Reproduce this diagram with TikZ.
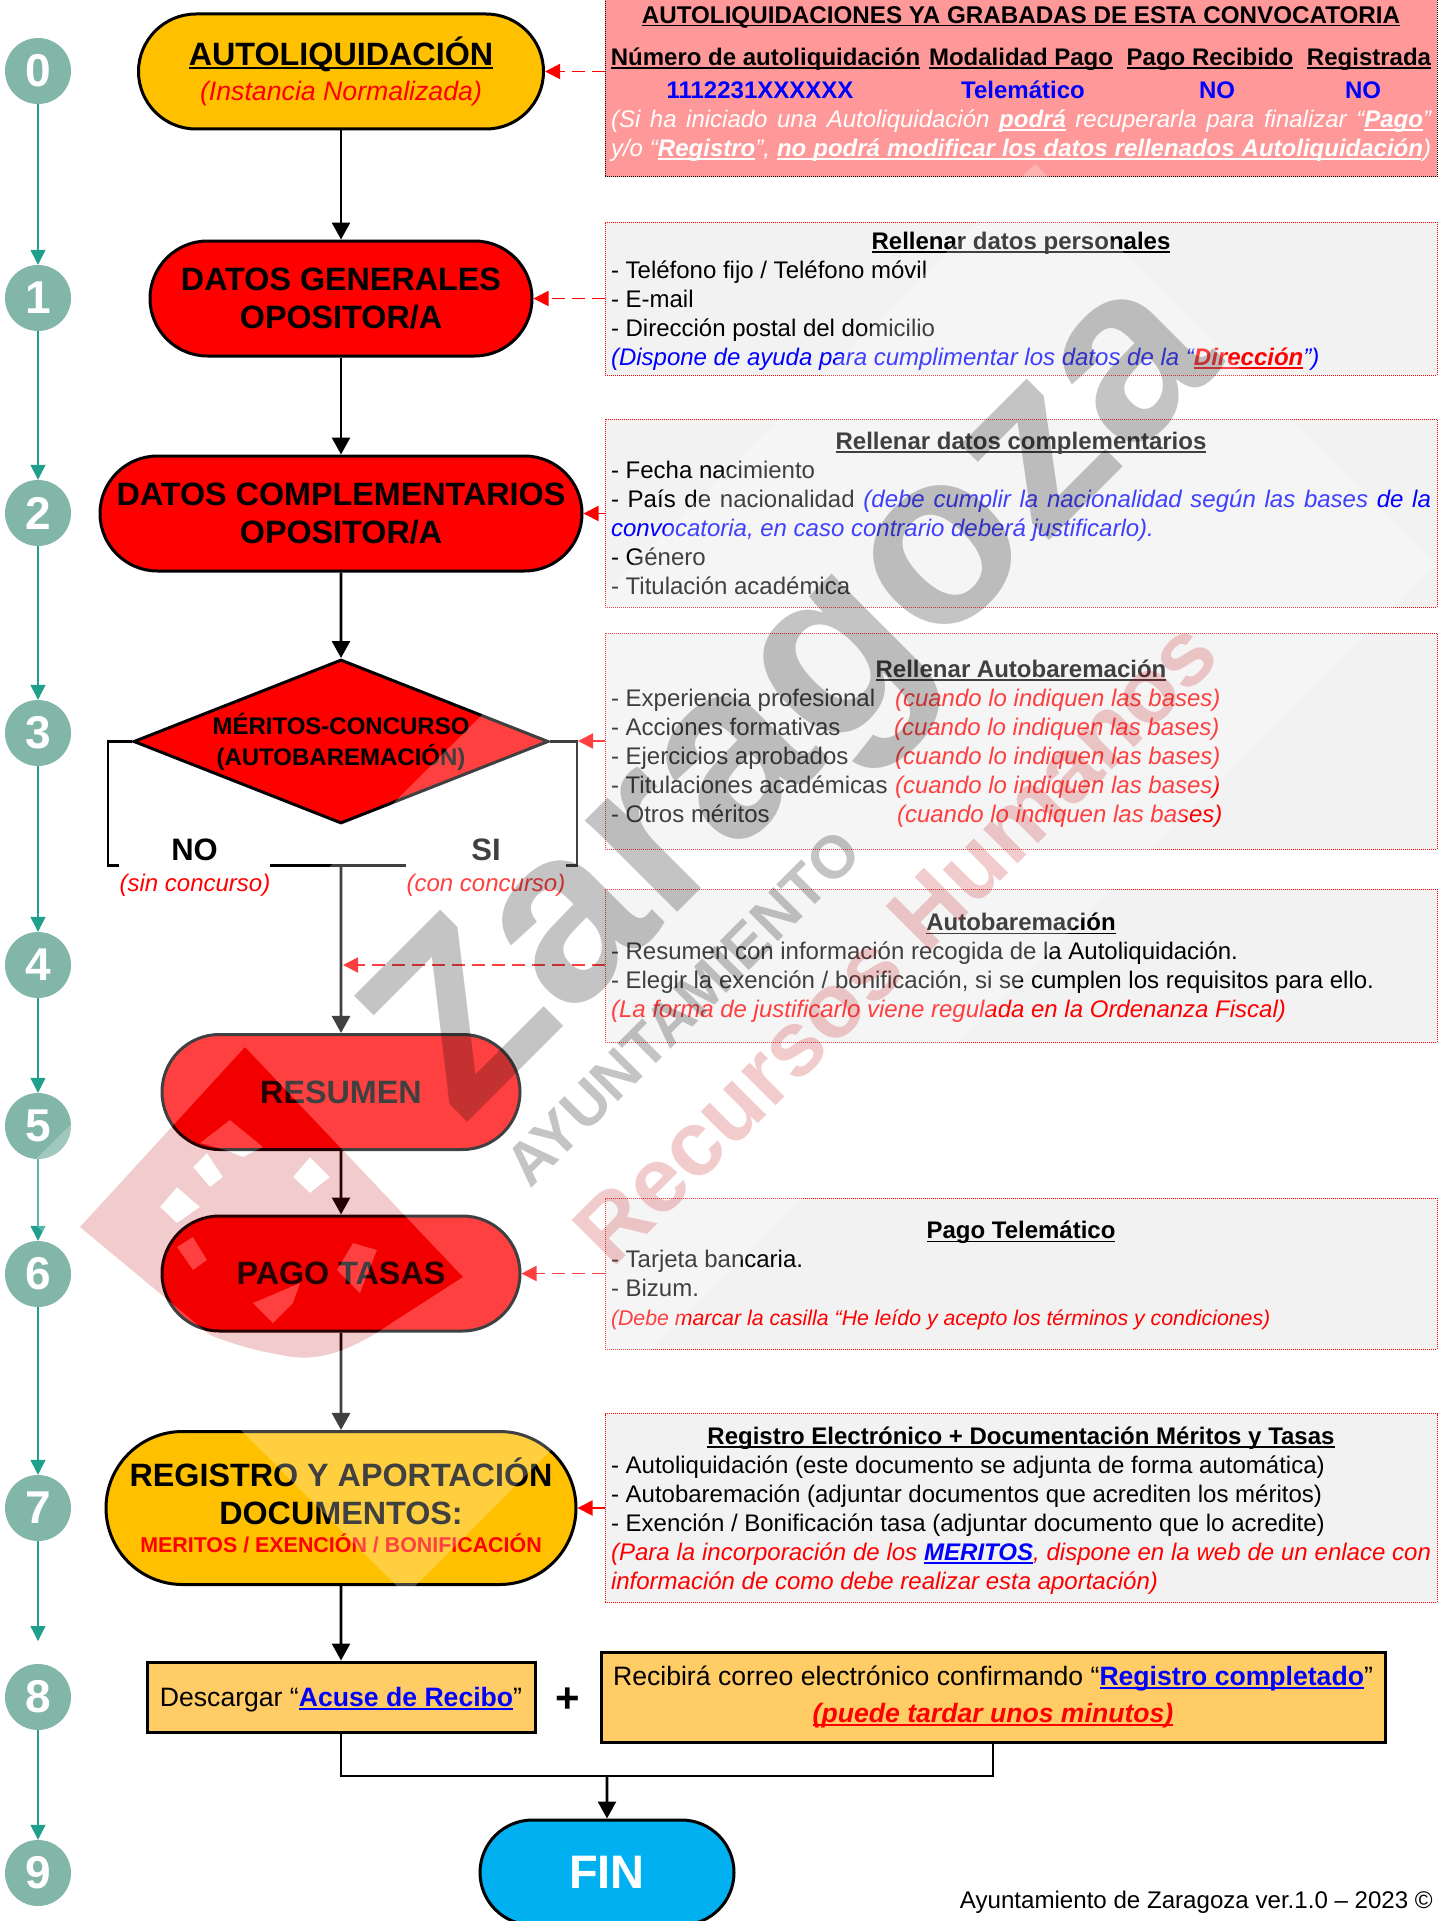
\documentclass[tikz,border=0pt]{standalone}
\usepackage{fontspec}
\setmainfont{Liberation Sans}
\usetikzlibrary{arrows.meta,shapes.geometric,shapes.misc}
\definecolor{stepfill}{HTML}{82B6A8}
\definecolor{stepline}{HTML}{20A08C}
\definecolor{amber}{HTML}{FFC000}
\definecolor{sand}{HTML}{FFCC66}
\definecolor{sky}{HTML}{00B0F0}
\definecolor{pinkbox}{HTML}{FF9999}
\definecolor{greybox}{HTML}{F2F2F2}
\definecolor{crest}{HTML}{C00000}
\newlength{\ulw}
\newcommand{\ulined}[1]{\settowidth{\ulw}{#1}\rlap{\smash{\rule[-3.4pt]{\ulw}{1.8pt}}}#1}
\newcommand{\fs}[2]{\fontsize{#1}{#2}\selectfont}
\newcommand{\lsa}{\spaceskip=0pt\xspaceskip=0pt\rule{0pt}{23.6pt}}
\newcommand{\lsb}{\rule[-6pt]{0pt}{6pt}}
\newcommand{\head}[1]{\makebox[820pt]{\bfseries\ulined{#1}}}
\newcommand{\just}[1]{\makebox[820pt][s]{#1}}
\newcommand{\col}[2]{\makebox[#1pt][l]{#2}}
\newcommand{\hot}[2]{{\bfseries\color{#1}\ulined{#2}}}
\newcommand{\bases}{{\color{red}\itshape (cuando lo indiquen las bases)}}
\tikzset{
  stepnum/.style={circle,fill=stepfill,text=white,minimum size=66pt,inner sep=0pt,font=\fs{46}{46}\bfseries},
  stepline/.style={draw=stepline,line width=1.2pt,-{Triangle[length=15pt,width=15pt]}},
  terminal/.style={rounded rectangle,draw,line width=3pt,inner sep=0pt,align=center,font=\fs{32.3}{38}\bfseries},
  plainbox/.style={rectangle,draw,line width=3pt,fill=sand,inner sep=0pt,align=center,font=\fs{26.6}{37}},
  infobox/.style={rectangle,draw=red,densely dotted,line width=1pt,fill=greybox,inner xsep=6pt,inner ysep=0pt,
    text width=820pt,align=left,font=\fs{24}{28.9},execute at begin node=\lsa,execute at end node=\lsb},
  cell/.style={inner sep=0pt,font=\fs{24}{28.9}},
  flowline/.style={line width=2.7pt},
  flow/.style={line width=2.7pt,-{Triangle[length=17pt,width=18pt]}},
  hint/.style={draw=red,line width=1.8pt,dash pattern=on 13pt off 7pt,-{Triangle[length=15pt,width=15pt]}},
  logoshape/.style={insert path={
    (80,1227) -- (245,1047) -- (463,1277) -- (393,1322) .. controls (350,1352) and (320,1360) .. (293,1357)
      .. controls (260,1352) and (235,1345) .. (210,1335) -- cycle
    (160,1207) -- (177,1187) -- (200,1207) -- (177,1223) -- cycle
    (193,1167) -- (207,1153) -- (223,1177) -- (210,1187) -- cycle
    (200,1143) -- (230,1120) -- (263,1147) -- (243,1157) -- (225,1150) -- cycle
    (293,1177) -- (310,1157) -- (330,1177) -- (310,1193) -- cycle
    (177,1247) -- (193,1237) -- (207,1260) -- (193,1270) -- cycle
    (253,1303) -- (300,1283) -- (293,1303) -- (273,1323) -- cycle
    (337,1270) -- (353,1243) -- (377,1250) -- (360,1293) -- cycle}}
}
\begin{document}
\begin{tikzpicture}[x=1pt,y=-1pt]
\useasboundingbox (0,0) rectangle (1449,1921);
\clip (0,0) rectangle (1449,1921);
\fill[white] (0,0) rectangle (1449,1921);

% step numbers
\node [stepnum] (s0) at (38,71) {0};
\node [stepnum] (s1) at (38,298) {1};
\node [stepnum] (s2) at (38,513) {2};
\node [stepnum] (s3) at (38,733) {3};
\node [stepnum] (s4) at (38,965) {4};
\node [stepnum] (s5) at (38,1126) {5};
\node [stepnum] (s6) at (38,1274) {6};
\node [stepnum] (s7) at (38,1508) {7};
\node [stepnum] (s8) at (38,1697) {8};
\node [stepnum] (s9) at (38,1873) {9};
\coordinate (t8) at (38,1641);
\draw[stepline] (s0) -- (s1);
\draw[stepline] (s1) -- (s2);
\draw[stepline] (s2) -- (s3);
\draw[stepline] (s3) -- (s4);
\draw[stepline] (s4) -- (s5);
\draw[stepline] (s5) -- (s6);
\draw[stepline] (s6) -- (s7);
\draw[stepline] (s7.south) -- (t8);
\draw[stepline] (s8) -- (s9);

% flow
\node [terminal,fill=amber,minimum width=405pt,minimum height=115pt] (autoliq) at (341,71.5)
  {\ulined{AUTOLIQUIDACIÓN}\\[-3pt]{\fs{26.7}{38}\mdseries\itshape\color{red}(Instancia Normalizada)}};
\node [terminal,fill=red,minimum width=382pt,minimum height=115pt] (datgen) at (341,298.5) {DATOS GENERALES\\OPOSITOR/A};
\node [terminal,fill=red,minimum width=482pt,minimum height=115pt] (datcomp) at (341,513.5) {DATOS COMPLEMENTARIOS\\OPOSITOR/A};
\node [diamond,aspect=2.53,draw,fill=red,line width=3pt,inner sep=0pt,minimum width=415pt,minimum height=164pt,
  align=center,font=\fs{24}{31}\bfseries] (merit) at (341,741.5) {MÉRITOS-CONCURSO\\(AUTOBAREMACIÓN)};
\node [terminal,fill=red,minimum width=358pt,minimum height=115pt] (resumen) at (341,1092) {RESUMEN};
\node [terminal,fill=red,minimum width=358pt,minimum height=115pt] (pago) at (341,1273.5) {PAGO TASAS};
\node [terminal,fill=amber,minimum width=470pt,minimum height=153pt] (regis) at (341,1508)
  {REGISTRO Y APORTACIÓN\\DOCUMENTOS:\\[-5pt]\raisebox{5pt}{\fs{21.4}{38}\color{red}MERITOS / EXENCIÓN / BONIFICACIÓN}};
\node [plainbox,minimum width=388pt,minimum height=70pt,text depth=0pt] (acuse) at (341,1697) {Descargar “\hot{blue}{Acuse de Recibo}”};
\node [plainbox,minimum width=784pt,minimum height=90pt] (correo) at (993,1697)
  {Recibirá correo electrónico confirmando “\hot{blue}{Registro completado}”\\{\bfseries\itshape\color{red}\ulined{(puede tardar unos minutos)}}};
\node [terminal,fill=sky,text=white,minimum width=254pt,minimum height=105pt,font=\fs{47}{47}\bfseries] (fin) at (607,1872.5) {FIN};
\node [inner sep=0pt,font=\fs{42}{42}\bfseries] (plus) at (567.5,1700.5) {+};

\draw[flow] (autoliq) -- (datgen);
\draw[flow] (datgen) -- (datcomp);
\draw[flow] (datcomp) -- (merit);

% branches of the merit test
\coordinate (bl) at (108,865.5);
\coordinate (br) at (577,865.5);
\coordinate (bm) at (341,865.5);
\draw[flowline] (merit.west) -| (bl) -- (br) |- (merit.east);
\node [fill=white,minimum width=151pt,minimum height=40pt,inner sep=0pt,font=\fs{31}{31}\bfseries] (no) at (194.5,850) {NO};
\node [fill=white,minimum width=160pt,minimum height=40pt,inner sep=0pt,font=\fs{31}{31}\bfseries] (si) at (486,850) {SI};
\node [inner sep=0pt,font=\fs{24}{24}\itshape,text=red] (sinc) at (195,885) {(sin concurso)};
\node [inner sep=0pt,font=\fs{24}{24}\itshape,text=red] (conc) at (486,885) {(con concurso)};
\draw[flow] (bm) -- (resumen);
\draw[flow] (resumen) -- (pago);
\draw[flow] (pago) -- (regis);
\draw[flow] (regis) -- (acuse);
\coordinate (j) at (607,1776);
\draw[flowline] (acuse.south) |- (j) -| (correo.south);
\draw[flow] (j) -- (fin);

% boxes on the right
\node [rectangle,draw=black,densely dotted,line width=1pt,fill=pinkbox,minimum width=832pt,minimum height=177pt,inner sep=0pt] (b0) at (1021,88.5) {};
\node [cell,font=\fs{24.2}{28.9}\bfseries] (b0t) at (1021,17) {\ulined{AUTOLIQUIDACIONES YA GRABADAS DE ESTA CONVOCATORIA}};
\node [cell,font=\fs{24}{28.9}\bfseries] (h1) at (765.5,59.5) {\ulined{Número de autoliquidación}};
\node [cell,font=\fs{24}{28.9}\bfseries] (h2) at (1021,59.5) {\ulined{Modalidad Pago}};
\node [cell,font=\fs{24}{28.9}\bfseries] (h3) at (1210,59.5) {\ulined{Pago Recibido}};
\node [cell,font=\fs{24}{28.9}\bfseries] (h4) at (1369,59.5) {\ulined{Registrada}};
\node [cell,font=\fs{24}{28.9}\bfseries,text=blue] (v1) at (760,90) {1112231XXXXXX};
\node [cell,font=\fs{24}{28.9}\bfseries,text=blue] (v2) at (1023,90) {Telemático};
\node [cell,font=\fs{24}{28.9}\bfseries,text=blue] (v3) at (1217,90) {NO};
\node [cell,font=\fs{24}{28.9}\bfseries,text=blue] (v4) at (1363,90) {NO};
\node [infobox,draw=none,fill=none,text=white,font=\fs{24}{28.9}\itshape] (b0n) at (1021,133.5)
  {\just{(Si ha iniciado una Autoliquidación {\bfseries\ulined{podrá}} recuperarla para finalizar “{\bfseries\ulined{Pago}}”}\\
   \just{y/o “{\bfseries\ulined{Registro}}”, {\bfseries\ulined{no podrá modificar los datos rellenados Autoliquidación}})}};
\node [infobox,minimum height=153pt] (b1) at (1021,298.5)
  {\head{Rellenar datos personales}\\
   - Teléfono fijo / Teléfono móvil\\
   - E-mail\\
   - Dirección postal del domicilio\\
   {\color{blue}\itshape(Dispone de ayuda para cumplimentar los datos de la “\hot{red}{Dirección}”)}};
\node [infobox,minimum height=188pt] (b2) at (1021,513)
  {\head{Rellenar datos complementarios}\\
   - Fecha nacimiento\\
   \just{- País de nacionalidad {\color{blue}\itshape(debe cumplir la nacionalidad según las bases de la}}\\
   {\color{blue}\itshape convocatoria, en caso contrario deberá justificarlo).}\\
   - Género\\
   - Titulación académica};
\node [infobox,minimum height=216pt] (b3) at (1021,741)
  {\head{Rellenar Autobaremación}\\
   \col{284}{- Experiencia profesional}\bases\\
   \col{283}{- Acciones formativas}\bases\\
   \col{284}{- Ejercicios aprobados}\bases\\
   \col{284}{- Titulaciones académicas}\bases\\
   \col{286}{- Otros méritos}\bases};
\node [infobox,minimum height=153pt] (b4) at (1021,965.5)
  {\head{Autobaremación}\\
   - Resumen con información recogida de la Autoliquidación.\\
   - Elegir la exención / bonificación, si se cumplen los requisitos para ello.\\
   {\color{red}\itshape(La forma de justificarlo viene regulada en la Ordenanza Fiscal)}};
\node [infobox,minimum height=151pt] (b5) at (1021,1273.5)
  {\head{Pago Telemático}\\
   - Tarjeta bancaria.\\
   - Bizum.\\
   {\fs{21.3}{28.9}\color{red}\itshape(Debe marcar la casilla “He leído y acepto los términos y condiciones)}};
\node [infobox,minimum height=188.5pt] (b6) at (1021,1508)
  {\head{Registro Electrónico + Documentación Méritos y Tasas}\\
   - Autoliquidación (este documento se adjunta de forma automática)\\
   - Autobaremación (adjuntar documentos que acrediten los méritos)\\
   - Exención / Bonificación tasa (adjuntar documento que lo acredite)\\
   \just{\color{red}\itshape(Para la incorporación de los \hot{blue}{MERITOS}, dispone en la web de un enlace con}\\
   {\color{red}\itshape información de como debe realizar esta aportación)}};

% dashed pointers
\coordinate (on4) at (343,965);
\coordinate (onsi) at (578,741);
\draw[hint] (b0.west |- autoliq) -- (autoliq.east);
\draw[hint] (b1.west |- datgen) -- (datgen.east);
\draw[hint] (b2.west |- datcomp) -- (datcomp.east);
\draw[hint] (b3.west |- onsi) -- (onsi);
\draw[hint] (b4.west |- on4) -- (on4);
\draw[hint] (b5.west |- pago) -- (pago.east);
\draw[hint] (b6.west |- regis) -- (regis.east);

\node [anchor=base east,inner sep=0pt,font=\fs{24.1}{24}] (foot) at (1433,1908) {Ayuntamiento de Zaragoza ver.1.0 – 2023 ©};

% watermark
\fill[white,fill opacity=.25,even odd rule,logoshape] (3,1192) -- (1035,164) -- (1436,565) -- (406,1595) -- cycle;
\fill[crest,fill opacity=.2,even odd rule,logoshape];
\node [anchor=base west,rotate=45,inner sep=0pt,opacity=.23,font=\fs{246}{246}\bfseries] (wz) at (462,1128) {Zaragoza};
\node [anchor=base west,rotate=45,inner sep=0pt,opacity=.23,font=\fs{60}{60}\bfseries] (wa) at (530,1190) {AYUNTAMIENTO};
\node [anchor=base west,rotate=45,inner sep=0pt,opacity=.2,text=crest,font=\fs{92}{92}\bfseries] (wr) at (612,1270) {Recursos Humanos};
\end{tikzpicture}
\end{document}
